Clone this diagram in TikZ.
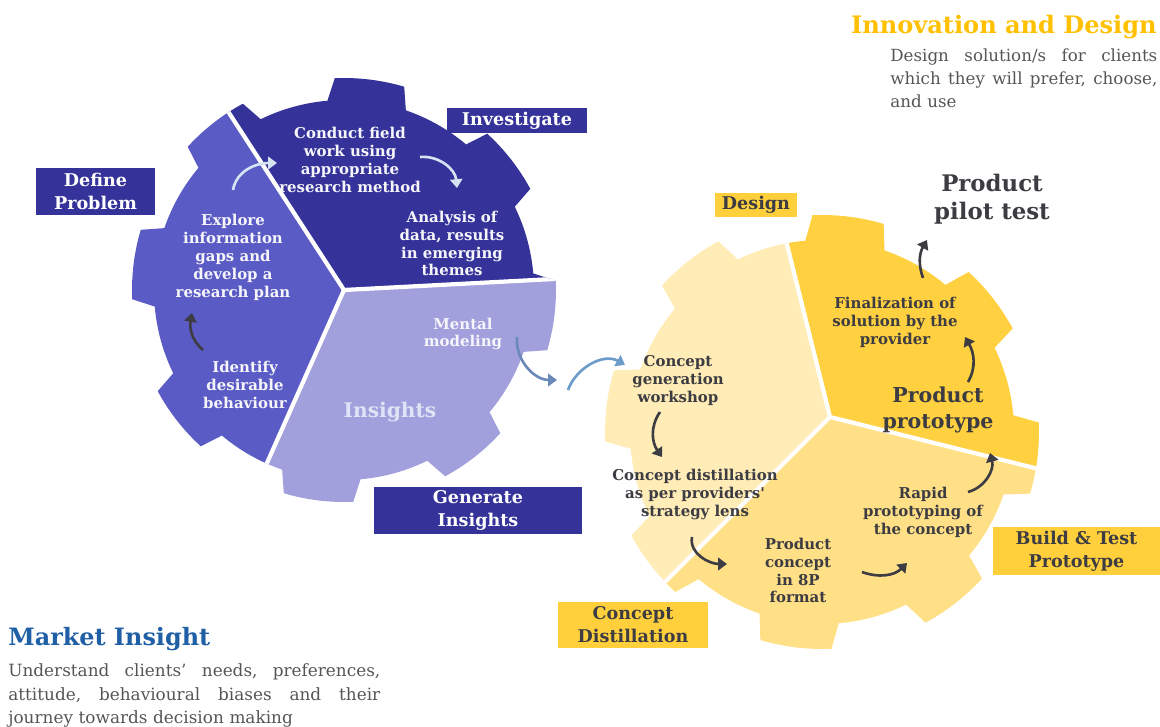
\documentclass[tikz,border=0pt]{standalone}
\usepackage{fontspec}
\setmainfont{DejaVu Serif}
\usetikzlibrary{arrows.meta, positioning}

\definecolor{invnavy}{RGB}{53,51,153}
\definecolor{defpurple}{RGB}{91,91,198}
\definecolor{inslilac}{RGB}{162,159,221}
\definecolor{despale}{RGB}{255,236,182}
\definecolor{bldyellow}{RGB}{255,224,134}
\definecolor{prtgold}{RGB}{255,208,63}
\definecolor{boxgold}{RGB}{255,208,60}
\definecolor{headgold}{RGB}{255,192,0}
\definecolor{headblue}{RGB}{31,95,165}
\definecolor{bodygray}{RGB}{85,85,85}
\definecolor{inkdark}{RGB}{60,60,66}
\definecolor{arrlight}{RGB}{214,227,242}
\definecolor{arrsteel}{RGB}{106,136,186}
\definecolor{arrblue}{RGB}{108,156,202}
\definecolor{insfont}{RGB}{222,228,245}

% gear outline: inner radius, outer radius, angle of first tooth
\newcommand{\gearpath}[3]{%
  ({#3-12}:#1) \foreach \k in {0,...,7}{
    -- ({#3+45*\k-9.5}:#2)
    arc[start angle={#3+45*\k-9.5}, end angle={#3+45*\k+9.5}, radius=#2]
    -- ({#3+45*\k+12}:#1)
    arc[start angle={#3+45*\k+12}, end angle={#3+45*\k+33}, radius=#1]
  } -- cycle}

\tikzset{
  geartxt/.style={font=\fontsize{8.5}{10.2}\selectfont\bfseries, align=center, inner sep=0pt},
  lighttxt/.style={geartxt, text=white!95!invnavy},
  darktxt/.style={geartxt, text=inkdark},
  navybox/.style={fill=invnavy, text=white, font=\fontsize{10}{13}\selectfont\bfseries, align=center, inner sep=0pt},
  goldbox/.style={fill=boxgold, text=inkdark, font=\fontsize{10}{13}\selectfont\bfseries, align=center, inner sep=0pt},
  gapline/.style={white, line width=2.4pt},
  flowarr/.style={draw=#1, line width=1.5pt, -{Triangle[length=5pt,width=7pt]}},
}

\begin{document}
\begin{tikzpicture}[x=0.02cm, y=0.02cm]
\useasboundingbox (0,0) rectangle (1160,727);

% Market insight gear
\begin{scope}[shift={(344,437)}]
  \clip \gearpath{190}{212}{83};
  \fill[invnavy]   (0,0) -- +(3:400) -- +(63:400) -- +(123:400) -- cycle;
  \fill[defpurple] (0,0) -- +(123:400) -- +(184.5:400) -- +(246:400) -- cycle;
  \fill[inslilac]  (0,0) -- +(246:400) -- +(304.5:400) -- +(363:400) -- cycle;
  \foreach \a in {3,123,246} \draw[gapline] (0,0) -- (\a:240);
\end{scope}

% Innovation gear
\begin{scope}[shift={(822,295)}]
  \clip \gearpath{192}{217}{83};
  \fill[despale]   (8,15) -- +(104:400) -- +(164.5:400) -- +(225:400) -- cycle;
  \fill[bldyellow] (8,15) -- +(225:400) -- +(285.5:400) -- +(346:400) -- cycle;
  \fill[prtgold]   (8,15) -- +(346:400) -- +(45:400) -- +(104:400) -- cycle;
  \foreach \a in {104,225,346} \draw[gapline] (8,15) -- +(\a:260);
\end{scope}

% texts in the purple gear
\node[lighttxt] (conduct) at (350,567) {Conduct field\\work using\\appropriate\\research method};
\node[lighttxt] (analysis) at (452,483.5) {Analysis of\\data, results\\in emerging\\themes};
\node[lighttxt] (explore) at (233,469.5) {Explore\\information\\gaps and\\develop a\\research plan};
\node[lighttxt] (identify) at (245,342) {Identify\\desirable\\behaviour};
\node[lighttxt] (mental) at (463,393) {Mental\\modeling};
\node[font=\fontsize{11.5}{14}\selectfont\bfseries, text=insfont, inner sep=0pt] (insights) at (390,315) {Insights};

% texts in the yellow gear
\node[darktxt] (conceptgen) at (678,346.5) {Concept\\generation\\workshop};
\node[darktxt] (distill) at (695,232.5) {Concept distillation\\as per providers\textquotesingle\\strategy lens};
\node[darktxt] (prodconcept) at (798,156.5) {Product\\concept\\in 8P\\format};
\node[darktxt] (rapid) at (923,215) {Rapid\\prototyping of\\the concept};
\node[darktxt, font=\fontsize{11.7}{14.7}\selectfont\bfseries] (prototype) at (938,317) {Product\\prototype};
\node[darktxt] (final) at (895,404.5) {Finalization of\\solution by the\\provider};
\node[darktxt, font=\fontsize{13}{15.9}\selectfont\bfseries] (pilot) at (992,528) {Product\\pilot test};

% arrow ends
\coordinate (a1s) at (233,537);  \coordinate (a1e) at (277,564);
\coordinate (a2s) at (420,570);  \coordinate (a2e) at (457,539);
\coordinate (a3s) at (203,377);  \coordinate (a3e) at (192,414);
\coordinate (a4s) at (517,390);  \coordinate (a4e) at (557,347);
\coordinate (a5s) at (568,337);  \coordinate (a5e) at (625,362);
\coordinate (a6s) at (660,315);  \coordinate (a6e) at (662,270);
\coordinate (a7s) at (692,190);  \coordinate (a7e) at (727,163);
\coordinate (a8s) at (862,155);  \coordinate (a8e) at (907,164);
\coordinate (a9s) at (968,235);  \coordinate (a9e) at (990,274);
\coordinate (a10s) at (968,345); \coordinate (a10e) at (965,390);
\coordinate (a11s) at (923,449); \coordinate (a11e) at (927,487);

\draw[flowarr=arrlight] (a1s) to[out=80, in=180] (a1e);
\draw[flowarr=arrlight] (a2s) to[out=5, in=95] (a2e);
\draw[flowarr=inkdark] (a3s) to[out=140, in=-100] (a3e);
\draw[flowarr=arrsteel] (a4s) to[out=-95, in=180] (a4e);
\draw[flowarr=arrblue] (a5s) to[out=70, in=150] (a5e);
\draw[flowarr=inkdark] (a6s) to[out=235, in=125] (a6e);
\draw[flowarr=inkdark] (a7s) to[out=-100, in=180] (a7e);
\draw[flowarr=inkdark] (a8s) to[out=-20, in=225] (a8e);
\draw[flowarr=inkdark] (a9s) to[out=15, in=-75] (a9e);
\draw[flowarr=inkdark] (a10s) to[out=60, in=-60] (a10e);
\draw[flowarr=inkdark] (a11s) to[out=110, in=-120] (a11e);

% stage labels
\node[navybox, minimum width=2.8cm, minimum height=0.5cm] (investigate) at (517,606.5) {Investigate};
\node[navybox, minimum width=2.38cm, minimum height=0.94cm] (define) at (95.5,535.5) {Define\\Problem};
\node[navybox, minimum width=4.16cm, minimum height=0.94cm] (generate) at (478,216.5) {Generate\\Insights};
\node[goldbox, minimum width=1.64cm, minimum height=0.48cm] (design) at (756,522) {Design};
\node[goldbox, minimum width=3.34cm, minimum height=0.96cm] (build) at (1076.5,176) {Build \& Test\\Prototype};
\node[goldbox, minimum width=3cm, minimum height=0.92cm] (cdist) at (633,102) {Concept\\Distillation};

% headings
\node[anchor=base east, inner sep=0pt, text=headgold, font=\fontsize{13.7}{16}\selectfont\bfseries] (innov) at (1157,693) {Innovation and Design};
\node[anchor=north west, inner sep=0pt, text width=5.34cm, align=left, text=bodygray, font=\fontsize{9.5}{13.3}\selectfont] (innovtext) at (890,679)
  {\makebox[5.34cm][s]{Design\hfill solution/s\hfill for\hfill clients}\\\makebox[5.34cm][s]{which\hfill they\hfill will\hfill prefer,\hfill choose,}\\and use};
\node[anchor=base west, inner sep=0pt, text=headblue, font=\fontsize{13.6}{16}\selectfont\bfseries] (market) at (8,81) {Market Insight};
\node[anchor=north west, inner sep=0pt, text width=7.44cm, align=left, text=bodygray, font=\fontsize{9.6}{13.6}\selectfont] (markettext) at (8,64)
  {\makebox[7.44cm][s]{Understand\hfill clients’\hfill needs,\hfill preferences,}\\\makebox[7.44cm][s]{attitude,\hfill behavioural\hfill biases\hfill and\hfill their}\\journey towards decision making};
\end{tikzpicture}
\end{document}
